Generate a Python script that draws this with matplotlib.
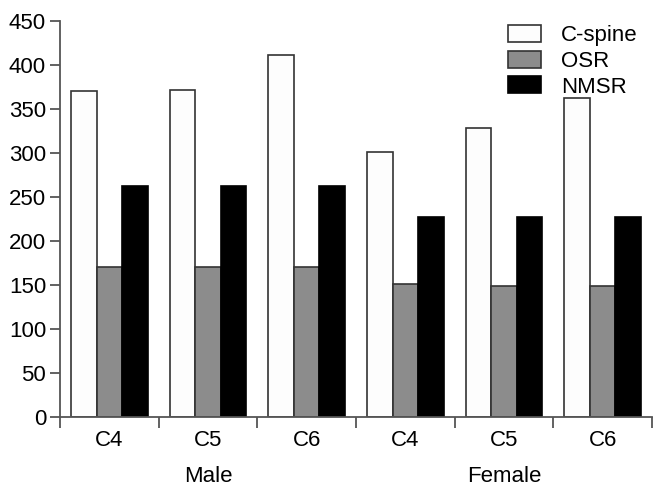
import numpy as np
import matplotlib.pyplot as plt

plt.rcParams['font.family'] = ['Liberation Sans', 'DejaVu Sans']

# datos
levels = ["C4", "C5", "C6", "C4", "C5", "C6"]
groups = ["Male", "Female"]
cspine = [370, 372, 411, 301, 328, 362]
osr = [170, 170, 170, 151, 149, 149]
nmsr = [263, 263, 263, 227, 227, 227]

fig = plt.figure(figsize=(6.53, 4.87), dpi=100)
ax = fig.add_axes([60 / 653, 1 - 417 / 487, 592 / 653, 396 / 487])

x = np.arange(len(levels)) + 0.5
w = 0.26
edge = "#333333"
ax.bar(x - w, cspine, w, color="#fdfdfd", edgecolor=edge, linewidth=1.2, label="C-spine")
ax.bar(x, osr, w, color="#8c8c8c", edgecolor=edge, linewidth=1.2, label="OSR")
ax.bar(x + w, nmsr, w, color="#000000", edgecolor="#000000", linewidth=1.2, label="NMSR")

ax.set_xlim(0, len(levels))
ax.set_ylim(0, 450)
ax.set_yticks(np.arange(0, 451, 50))
ax.set_xticks(np.arange(0, len(levels) + 1))
ax.set_xticklabels([])
ax.set_xticks(x, minor=True)
ax.set_xticklabels(levels, minor=True)

for s in ["top", "right"]:
    ax.spines[s].set_visible(False)
for s in ["left", "bottom"]:
    ax.spines[s].set_color("#555555")
    ax.spines[s].set_linewidth(1.3)

ax.tick_params(axis="y", labelsize=16, length=7, width=1.3, color="#555555", pad=3)
ax.tick_params(axis="x", which="major", length=8, width=1.3, color="#555555")
ax.tick_params(axis="x", which="minor", length=0, labelsize=16, pad=9)

for i, g in enumerate(groups):
    ax.text(1.5 + 3 * i, -68, g, ha="center", va="center", fontsize=16,
            transform=ax.transData, clip_on=False)

ax.legend(loc="upper right", bbox_to_anchor=(1.01, 1.04), frameon=False, fontsize=16,
          handlelength=1.5, handleheight=0.8, labelspacing=0.2, handletextpad=0.9)

plt.savefig("out.png", dpi=100)
